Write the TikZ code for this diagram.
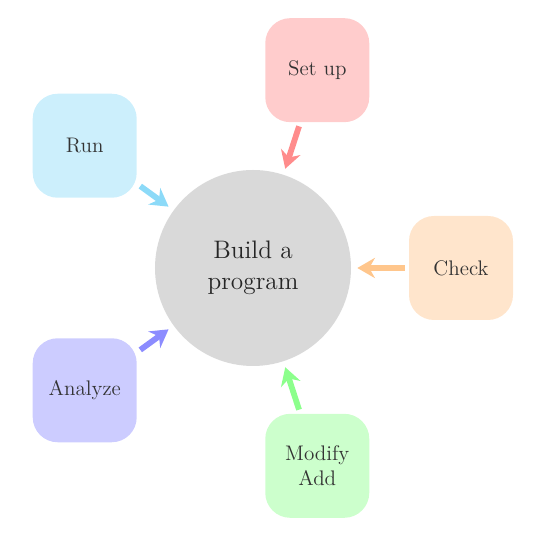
\documentclass[tikz,border=0pt]{standalone}
\usetikzlibrary{arrows.meta}

\begin{document}
\begin{tikzpicture}[
    hub/.style={circle, fill=gray!30, minimum size=3.92cm, align=center, font=\Large, text=black!85},
    satellite/.style={rectangle, rounded corners=0.5cm, minimum size=2.08cm, align=center, font=\large, text=black!80},
    link/.style={line width=3.3pt, -{Stealth[length=10pt, width=11.5pt]}, shorten <=0.08cm, shorten >=0.12cm}
]
\useasboundingbox (-5.06,-5.42) rectangle (5.74,5.36);
% Centre
\node[hub] (P) at (0, 0) {Build a\\program};
% Satellites
\node[satellite, fill=red!20] (S1) at (72:4.16) {Set up};
\node[satellite, fill=orange!20] (S2) at (0:4.16) {Check};
\node[satellite, fill=green!20] (S3) at (-72:4.16) {Modify\\Add};
\node[satellite, fill=blue!20] (S4) at (-144:4.16) {Analyze};
\node[satellite, fill=cyan!20] (S5) at (144:4.16) {Run};
% Arrows towards the centre
\draw[link, red!45] (S1) -- (P);
\draw[link, orange!45] (S2) -- (P);
\draw[link, green!45] (S3) -- (P);
\draw[link, blue!45] (S4) -- (P);
\draw[link, cyan!45] (S5) -- (P);
\end{tikzpicture}
\end{document}
